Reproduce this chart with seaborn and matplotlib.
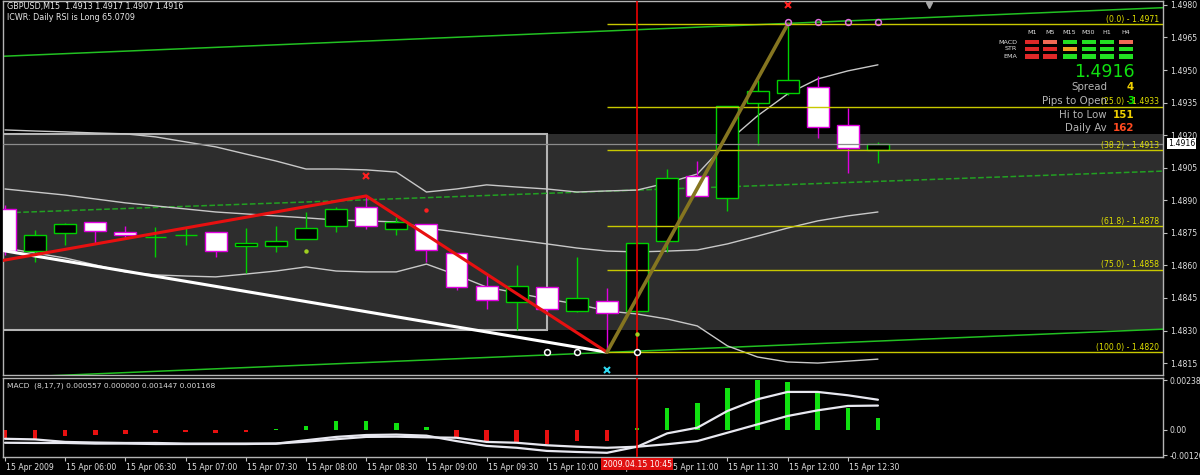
import numpy as np
import matplotlib
matplotlib.use("Agg")
import matplotlib.pyplot as plt
import matplotlib.patches as mpatches
import matplotlib.transforms as mtrans
import seaborn as sns

# ---- data (GBPUSD, M15, 15 Apr 2009) ----
times = ["05:30", "05:45", "06:00", "06:15", "06:30", "06:45", "07:00", "07:15", "07:30", "07:45",
         "08:00", "08:15", "08:30", "08:45", "09:00", "09:15", "09:30", "09:45", "10:00", "10:15",
         "10:30", "10:45", "11:00", "11:15", "11:30", "11:45", "12:00", "12:15", "12:30", "12:45"]
opens = [1.48860, 1.48666, 1.48749, 1.48800, 1.48754, 1.48731, 1.48740, 1.48754, 1.48689, 1.48689,
         1.48722, 1.48782, 1.48869, 1.48768, 1.48791, 1.48657, 1.48505, 1.48431, 1.48501, 1.48390,
         1.48436, 1.48390, 1.48712, 1.49012, 1.48911, 1.49348, 1.49394, 1.49422, 1.49247, 1.49130]
highs = [1.48880, 1.48763, 1.48795, 1.48800, 1.48782, 1.48777, 1.48777, 1.48754, 1.48772, 1.48782,
         1.48846, 1.48869, 1.48920, 1.48823, 1.48791, 1.48657, 1.48556, 1.48602, 1.48501, 1.48639,
         1.48496, 1.48710, 1.49044, 1.49081, 1.49335, 1.49454, 1.49717, 1.49473, 1.49325, 1.49170]
lows = [1.48650, 1.48616, 1.48694, 1.48703, 1.48722, 1.48639, 1.48694, 1.48639, 1.48565, 1.48662,
        1.48722, 1.48756, 1.48768, 1.48740, 1.48616, 1.48487, 1.48399, 1.48302, 1.48390, 1.48385,
        1.48200, 1.48380, 1.48662, 1.48920, 1.48851, 1.49155, 1.49385, 1.49187, 1.49026, 1.49070]
closes = [1.48666, 1.48740, 1.48791, 1.48759, 1.48740, 1.48731, 1.48740, 1.48666, 1.48703, 1.48712,
          1.48772, 1.48860, 1.48782, 1.48800, 1.48671, 1.48501, 1.48441, 1.48505, 1.48399, 1.48450,
          1.48381, 1.48703, 1.49003, 1.48920, 1.49335, 1.49404, 1.49454, 1.49238, 1.49141, 1.49160]

bb_upper = [1.49224, 1.49219, 1.49215, 1.49210, 1.49206, 1.49192, 1.49169, 1.49146, 1.49113, 1.49081,
            1.49044, 1.49044, 1.49040, 1.49030, 1.48938, 1.48952, 1.48971, 1.48961, 1.48952, 1.48938,
            1.48943, 1.48947, 1.48980, 1.49021, 1.49169, 1.49289, 1.49390, 1.49459, 1.49496, 1.49524]
bb_mid = [1.48952, 1.48938, 1.48924, 1.48906, 1.48888, 1.48874, 1.48860, 1.48846, 1.48837, 1.48828,
          1.48819, 1.48809, 1.48805, 1.48800, 1.48772, 1.48754, 1.48735, 1.48717, 1.48699, 1.48680,
          1.48666, 1.48662, 1.48666, 1.48671, 1.48699, 1.48735, 1.48772, 1.48805, 1.48828, 1.48846]
bb_lower = [1.48680, 1.48657, 1.48634, 1.48602, 1.48570, 1.48556, 1.48551, 1.48547, 1.48560, 1.48574,
            1.48593, 1.48574, 1.48570, 1.48570, 1.48606, 1.48556, 1.48500, 1.48473, 1.48445, 1.48422,
            1.48390, 1.48376, 1.48353, 1.48321, 1.48229, 1.48178, 1.48155, 1.48150, 1.48159, 1.48168]

macd_hist = [-0.00037, -0.00042, -0.00029, -0.00025, -0.00021, -0.00016, -0.00010, -0.00016, -0.00010, 0.00003,
             0.00019, 0.00043, 0.00043, 0.00035, 0.00016, -0.00037, -0.00057, -0.00056, -0.00067, -0.00053,
             -0.00053, 0.00008, 0.00104, 0.00128, 0.00202, 0.002383, 0.00229, 0.00175, 0.00107, 0.000557]
macd_main = [-0.00061, -0.00062, -0.00062, -0.00065, -0.00065, -0.00067, -0.00067, -0.00067, -0.00067, -0.00065,
             -0.00049, -0.00033, -0.00024, -0.00022, -0.00027, -0.00053, -0.00076, -0.00085, -0.00100, -0.00105,
             -0.00109, -0.00080, -0.00016, 0.00011, 0.00091, 0.00147, 0.00182, 0.00182, 0.00166, 0.001447]
macd_signal = [-0.00042, -0.00045, -0.00057, -0.00060, -0.00062, -0.00062, -0.00065, -0.00065, -0.00065, -0.00065,
               -0.00056, -0.00044, -0.00033, -0.00032, -0.00035, -0.00037, -0.00057, -0.00061, -0.00073, -0.00080,
               -0.00085, -0.00080, -0.00068, -0.00053, -0.00013, 0.00027, 0.00067, 0.00094, 0.00115, 0.001168]

zigzag_bar = [-1, 12, 20]
zigzag_px = [1.4860, 1.4892, 1.4820]
trend_bar = [-1, 20]
trend_px = [1.4869, 1.4820]
swing_bar = [20, 26]
swing_px = [1.4820, 1.4971]
chan_bar = [-1, 38.6]
chan_upper = [1.49558, 1.49788]
chan_mid = [1.48837, 1.49035]
chan_lower = [1.48077, 1.48307]

fib_levels = [0.0, 25.0, 38.2, 61.8, 75.0, 100.0]
fib_prices = [1.4971, 1.4933, 1.4913, 1.4878, 1.4858, 1.4820]

box_bars = [0, 18]
box_prices = [1.48302, 1.49206]
bid = 1.4916

price_ticks = [1.4980, 1.4965, 1.4950, 1.4935, 1.4920, 1.4905, 1.4890, 1.4875, 1.4860, 1.4845, 1.4830, 1.4815]
macd_ticks = [0.002383, 0.0, -0.0012]
macd_tick_labels = ["0.002383", "0.00", "-0.00120"]
tick_bars = [0, 2, 4, 6, 8, 10, 12, 14, 16, 18, 20, 22, 24, 26, 28]
tick_labels = ["15 Apr 2009", "15 Apr 06:00", "15 Apr 06:30", "15 Apr 07:00", "15 Apr 07:30",
               "15 Apr 08:00", "15 Apr 08:30", "15 Apr 09:00", "15 Apr 09:30", "15 Apr 10:00",
               "15 Apr 10:30", "15 Apr 11:00", "15 Apr 11:30", "15 Apr 12:00", "15 Apr 12:30"]
cursor_bar = 21
cursor_label = "2009.04.15 10:45"

mtf_rows = ["MACD", "STR", "EMA"]
mtf_cols = ["M1", "M5", "M15", "M30", "H1", "H4"]
mtf_colors = [["#e02828", "#f06a55", "#22e022", "#22e022", "#22e022", "#f06a55"],
              ["#e02828", "#e02828", "#f0a020", "#22e022", "#22e022", "#22e022"],
              ["#e02828", "#e02828", "#22e022", "#22e022", "#22e022", "#22e022"]]
info_labels = ["Spread", "Pips to Open", "Hi to Low", "Daily Av"]
info_values = ["4", "3", "151", "162"]
info_colors = ["#f0d000", "#00e000", "#f0d000", "#ff4a20"]

# ---- style ----
sns.set_theme(style="dark", rc={"figure.facecolor": "black", "axes.facecolor": "black",
                                "savefig.facecolor": "black", "axes.edgecolor": "#b4b4b4",
                                "axes.linewidth": 1.0, "text.color": "#e6e6e6",
                                "xtick.color": "#c0c0c0", "ytick.color": "#c0c0c0",
                                "axes.grid": False})
plt.rcParams['font.family'] = ['DejaVu Sans']

W, H = 1200, 475


def px_box(x0, y0, x1, y1):
    return [x0 / W, 1 - y1 / H, (x1 - x0) / W, (y1 - y0) / H]


fig = plt.figure(figsize=(12, 4.75), dpi=100)
ax = fig.add_axes(px_box(3, 1, 1163, 375))
axm = fig.add_axes(px_box(3, 378, 1163, 457))
X0, X1 = -0.066, 38.47
bars = np.arange(len(times))

# ---- main price panel ----
ax.axhspan(box_prices[0], box_prices[1], color="#2d2d2d", zorder=0, lw=0)
ax.add_patch(mpatches.Rectangle((box_bars[0] - 0.3, box_prices[0]), box_bars[1] - box_bars[0] + 0.3,
                                box_prices[1] - box_prices[0], fill=False, ec="#b4b4b4", lw=1.5, zorder=1))

for y, ls, c in [(chan_upper, "-", "#22c022"), (chan_lower, "-", "#22c022"), (chan_mid, "--", "#22a022")]:
    sns.lineplot(x=chan_bar, y=y, ax=ax, color=c, lw=1.1, linestyle=ls, zorder=2)

for band in (bb_upper, bb_mid, bb_lower):
    sns.lineplot(x=bars, y=band, ax=ax, color="#c8c8c8", lw=1.0, zorder=2)

o = np.array(opens); c = np.array(closes)
bull = c >= o
edge = np.where(bull, "#00d000", "#e000e0")
face = np.where(bull, "black", "white")
ax.vlines(bars, lows, highs, colors=edge, lw=1.0, zorder=3)
ax.bar(bars, np.maximum(np.abs(c - o), 0.00002), bottom=np.minimum(o, c), width=0.73,
       color=face, edgecolor=edge, linewidth=1.0, zorder=4)

ax.axhline(bid, color="#8c8c8c", lw=0.9, zorder=5)
ax.hlines(fib_prices, swing_bar[0], X1, color="#c8c800", lw=1.0, zorder=5)
for lvl, p in zip(fib_levels, fib_prices):
    ax.text(X1 - 0.12, p + 0.00003, f"({lvl:.1f}) - {p:.4f}", ha="right", va="bottom",
            fontsize=5.6, color="#e0e000", zorder=7)

sns.lineplot(x=trend_bar, y=trend_px, ax=ax, color="white", lw=2.2, zorder=6)
sns.lineplot(x=zigzag_bar, y=zigzag_px, ax=ax, color="#e81010", lw=2.2, zorder=6)
sns.lineplot(x=swing_bar, y=swing_px, ax=ax, color="#857520", lw=2.6, zorder=6)
ax.axvline(cursor_bar, color="#ff0000", lw=1.1, zorder=6)

ax.plot([18, 19, 21], [1.4820] * 3, "o", ms=4.2, mfc="black", mec="white", mew=1.1, zorder=8)
ax.plot([26, 27, 28, 29], [1.4972] * 4, "o", ms=4.2, mfc="none", mec="#e070e0", mew=1.1, zorder=8)
ax.plot([12], [1.49012], "x", ms=4, color="#ff2020", mew=1.5, zorder=8)
ax.plot([26], [1.49800], "x", ms=4, color="#ff2020", mew=1.5, zorder=8, clip_on=False)
ax.plot([30.7], [1.49798], "v", ms=5, color="#a8a8a8", zorder=8, clip_on=False)
ax.plot([20], [1.48118], "x", ms=4, color="#30d8f0", mew=1.5, zorder=8)
ax.plot([14], [1.48855], "o", ms=2.2, color="#ff2020", zorder=8)
ax.plot([10, 21], [1.48666, 1.48284], "o", ms=2.2, color="#a0d020", zorder=8)

ax.set_xlim(X0, X1)
ax.set_ylim(1.48095, 1.49818)
ax.set_xticks([])
ax.set_yticks(price_ticks)
ax.set_yticklabels([f"{p:.4f}" for p in price_ticks])
ax.yaxis.tick_right()
ax.tick_params(axis="y", right=True, length=3, width=0.8, pad=2, labelsize=5.6,
               labelcolor="#e0e0e0", color="#c0c0c0")
ax.annotate(f"{bid:.4f}", xy=(1, bid), xycoords=("axes fraction", "data"), xytext=(3.5, 0),
            textcoords="offset points", va="center", ha="left", fontsize=5.6, color="black",
            bbox=dict(boxstyle="square,pad=0.15", fc="white", ec="none"), annotation_clip=False)

# ---- header texts ----
fig.text(7 / W, 1 - 6 / H, "GBPUSD,M15  1.4913 1.4917 1.4907 1.4916", fontsize=5.8,
         color="#e6e6e6", va="center")
fig.text(7 / W, 1 - 17 / H, "ICWR: Daily RSI is Long 65.0709", fontsize=5.8, color="#e6e6e6", va="center")

# ---- multi-timeframe panel ----
col_x = [1032, 1050, 1069.5, 1088.5, 1106.5, 1125.5]
row_y = [42, 49, 56.5]
for cx, name in zip(col_x, mtf_cols):
    fig.text(cx / W, 1 - 33 / H, name, fontsize=4.6, color="#e0e0e0", ha="center", va="center")
for r, (ry, name) in enumerate(zip(row_y, mtf_rows)):
    fig.text(1017 / W, 1 - ry / H, name, fontsize=4.6, color="#e0e0e0", ha="right", va="center")
    for cx, col in zip(col_x, mtf_colors[r]):
        fig.patches.append(mpatches.Rectangle(((cx - 7) / W, 1 - (ry + 2.3) / H), 14 / W, 4.6 / H,
                                              transform=fig.transFigure, fc=col, ec="none"))
fig.text(1135 / W, 1 - 72 / H, f"{bid:.4f}", fontsize=12.5, color="#10e010", ha="right", va="center")
for ry, lab, val, col in zip([87, 101, 115, 128], info_labels, info_values, info_colors):
    fig.text(1107 / W, 1 - ry / H, lab, fontsize=7.4, color="#b4b4b4", ha="right", va="center")
    fig.text(1134 / W, 1 - ry / H, val, fontsize=7.4, color=col, ha="right", va="center", weight="bold")

# ---- MACD panel ----
hist = np.array(macd_hist)
axm.bar(bars, hist, width=0.15, color=np.where(hist >= 0, "#10e010", "#e81010"), linewidth=0, zorder=2)
sns.lineplot(x=bars, y=macd_main, ax=axm, color="#e8e8f0", lw=1.6, zorder=3)
sns.lineplot(x=bars, y=macd_signal, ax=axm, color="#e8e8f0", lw=1.6, zorder=3)
axm.axvline(cursor_bar, color="#ff0000", lw=1.1, zorder=4)
axm.text(0.0035, 0.9, "MACD  (8,17,7) 0.000557 0.000000 0.001447 0.001168", transform=axm.transAxes,
         fontsize=5.4, color="#d8d8d8", va="center")
axm.set_xlim(X0, X1)
axm.set_ylim(-0.001291, 0.002486)
axm.set_yticks(macd_ticks)
axm.set_yticklabels(macd_tick_labels)
axm.yaxis.tick_right()
axm.tick_params(axis="y", right=True, length=3, width=0.8, pad=2, labelsize=5.6,
                labelcolor="#e0e0e0", color="#c0c0c0")
axm.set_xticks(tick_bars)
axm.set_xticklabels(tick_labels)
axm.tick_params(axis="x", bottom=True, length=3, width=0.8, pad=1.5, labelsize=5.6,
                labelcolor="#e0e0e0", color="#c0c0c0")
for lbl in axm.get_xticklabels():
    lbl.set_ha("left")
    lbl.set_transform(lbl.get_transform() + mtrans.ScaledTranslation(1 / 100, 0, fig.dpi_scale_trans))
axm.text(cursor_bar, -0.035, cursor_label, transform=axm.get_xaxis_transform(), ha="center", va="top",
         fontsize=5.6, color="white", bbox=dict(boxstyle="square,pad=0.2", fc="#e01010", ec="none"), zorder=10)
axm.set_xlabel("")
axm.set_ylabel("")
ax.set_xlabel("")
ax.set_ylabel("")

fig.savefig("out.png", dpi=100, facecolor="black")
